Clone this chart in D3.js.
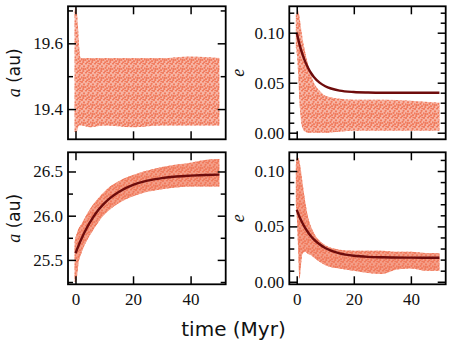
<!DOCTYPE html>
<html><head><meta charset="utf-8">
<script src="https://cdn.jsdelivr.net/npm/d3@7"></script>
<style>body{margin:0;background:#fff}svg{display:block}</style>
</head><body>
<script>
// ---------- data ----------
// Top-left: semi-major axis a (au) scatter envelope, no fit curve
const tlTime  = [-0.3, 0, 0.4, 0.8, 1.2, 1.6, 2, 5, 10, 20, 30, 40, 50];
const tlUpper = [19.70, 19.71, 19.70, 19.66, 19.60, 19.56, 19.555, 19.555, 19.555, 19.555, 19.555, 19.56, 19.555];
const tlLower = [19.33, 19.33, 19.33, 19.34, 19.35, 19.35, 19.35, 19.345, 19.35, 19.345, 19.35, 19.35, 19.35];

// Top-right: eccentricity scatter envelope and fit curve
const trTime  = [-0.3, 0, 0.5, 1, 1.5, 2, 3, 4, 5, 6, 8, 10, 15, 20, 30, 40, 50];
const trUpper = [0.118, 0.12, 0.122, 0.115, 0.105, 0.095, 0.08, 0.068, 0.058, 0.05, 0.042, 0.037, 0.034, 0.033, 0.033, 0.032, 0.030];
const trLower = [0.085, 0.08, 0.06, 0.03, 0.012, 0.005, 0.001, 0.0, 0.0, 0.0, 0.0, 0.0, 0.001, 0.002, 0.002, 0.002, 0.002];
const trFitT  = [0, 1, 2, 3, 4, 5, 6, 8, 10, 12, 15, 20, 25, 30, 40, 50];
const trFit   = [0.100, 0.0881, 0.0785, 0.0708, 0.0647, 0.0597, 0.0558, 0.0501, 0.0465, 0.0442, 0.0421, 0.0407, 0.0402, 0.0400, 0.0400, 0.0400];

// Bottom-left: a (au) scatter envelope and fit curve
const blTime  = [-0.3, 0, 0.5, 1, 2, 4, 6, 8, 10, 12, 15, 20, 25, 30, 35, 40, 45, 50];
const blUpper = [25.70, 25.75, 25.80, 25.85, 25.90, 26.02, 26.12, 26.20, 26.27, 26.33, 26.39, 26.46, 26.51, 26.55, 26.58, 26.60, 26.63, 26.64];
const blLower = [25.25, 25.25, 25.30, 25.45, 25.57, 25.72, 25.83, 25.93, 26.01, 26.07, 26.14, 26.22, 26.27, 26.30, 26.32, 26.33, 26.33, 26.33];
const blFitT  = [0, 2, 4, 6, 8, 10, 12, 15, 20, 25, 30, 35, 40, 45, 50];
const blFit   = [25.575, 25.733, 25.867, 25.976, 26.066, 26.139, 26.199, 26.269, 26.348, 26.396, 26.425, 26.443, 26.453, 26.46, 26.464];

// Bottom-right: eccentricity scatter envelope and fit curve
const brTime  = [-0.3, 0, 0.5, 1, 1.5, 2, 3, 4, 5, 6, 8, 10, 15, 20, 25, 30, 35, 40, 45, 50];
const brUpper = [0.105, 0.112, 0.112, 0.108, 0.10, 0.09, 0.072, 0.058, 0.050, 0.044, 0.037, 0.033, 0.029, 0.028, 0.028, 0.028, 0.027, 0.027, 0.026, 0.026];
const brLower = [0.07, 0.06, 0.03, 0.003, 0.015, 0.025, 0.027, 0.025, 0.024, 0.022, 0.018, 0.015, 0.012, 0.010, 0.008, 0.007, 0.011, 0.012, 0.010, 0.010];
const brFitT  = [0, 1, 2, 3, 4, 5, 6, 8, 10, 12, 15, 20, 25, 30, 40, 50];
const brFit   = [0.065, 0.0584, 0.0530, 0.0484, 0.0445, 0.0411, 0.0383, 0.0338, 0.0305, 0.0281, 0.0257, 0.0235, 0.0225, 0.0221, 0.0218, 0.0217];

// ticks
const xTicks = [0, 20, 40];
const xTickLabels = ["0", "20", "40"];
const aTopTicks = [19.4, 19.6];
const aTopMinor = [19.3, 19.5, 19.7];
const aBotTicks = [25.5, 26.0, 26.5];
const aBotMinor = [25.25, 25.75, 26.25, 26.75];
const eTicks = [0.00, 0.05, 0.10];
const eMinor = [0.01, 0.02, 0.03, 0.04, 0.06, 0.07, 0.08, 0.09, 0.11, 0.12];

// ---------- drawing ----------
const W = 457, H = 343;
const svg = d3.select("body").append("svg").attr("width", W).attr("height", H);

const scatterColor = "#f07a5c";
const lineColor = "#6e0c0c";
const tickFont = "'Liberation Serif', 'Times New Roman', serif";

// speckle texture (style only) to suggest a dense point cloud
const defs = svg.append("defs");
const pat = defs.append("pattern").attr("id", "speckle").attr("patternUnits", "userSpaceOnUse")
  .attr("width", 9).attr("height", 9);
[[1,1],[5,0.6],[3,3.4],[7.6,2.8],[0.6,5.4],[4.4,6],[8,7.2],[2.2,8],[6.2,8.4],[6.6,4.8],[2.6,6.2],[8.4,0.2]]
  .forEach(([cx, cy]) => pat.append("circle").attr("cx", cx).attr("cy", cy).attr("r", 1.1).attr("fill", scatterColor));

function panel(o) {
  const x = d3.scaleLinear().domain([-2.6, 52.2]).range([o.x0, o.x1]);
  const y = d3.scaleLinear().domain(o.yDomain).range([o.y1, o.y0]);
  const g = svg.append("g");
  const clipId = "clip" + o.id;
  svg.append("clipPath").attr("id", clipId).append("rect")
    .attr("x", o.x0).attr("y", o.y0).attr("width", o.x1 - o.x0).attr("height", o.y1 - o.y0);
  const plot = g.append("g").attr("clip-path", `url(#${clipId})`);

  const bandData = o.t.map((t, i) => ({t, lo: o.lo[i], hi: o.hi[i]}));
  const area = d3.area().x(d => x(d.t)).y0(d => y(d.lo)).y1(d => y(d.hi)).curve(d3.curveMonotoneX);
  plot.append("path").datum(bandData).attr("d", area)
    .attr("fill", scatterColor).attr("fill-opacity", o.op);
  plot.append("path").datum(bandData).attr("d", area)
    .attr("fill", "url(#speckle)");
  if (o.fitT) {
    const fd = o.fitT.map((t, i) => ({t, v: o.fit[i]}));
    plot.append("path").datum(fd)
      .attr("d", d3.line().x(d => x(d.t)).y(d => y(d.v)).curve(d3.curveMonotoneX))
      .attr("fill", "none").attr("stroke", lineColor).attr("stroke-width", 2.4);
  }

  const maj = 8, mnr = 5;
  const minor = o.yMinor.filter(v => v >= o.yDomain[0] && v <= o.yDomain[1]);
  g.append("g").attr("transform", `translate(${o.x0},0)`)
    .call(d3.axisLeft(y).tickValues(o.yTicks).tickFormat(o.yFmt).tickSize(-maj).tickPadding(5));
  g.append("g").attr("transform", `translate(${o.x0},0)`)
    .call(d3.axisLeft(y).tickValues(minor).tickFormat("").tickSize(-mnr));
  g.append("g").attr("transform", `translate(${o.x1},0)`)
    .call(d3.axisRight(y).tickValues(o.yTicks).tickFormat("").tickSize(-maj));
  g.append("g").attr("transform", `translate(${o.x1},0)`)
    .call(d3.axisRight(y).tickValues(minor).tickFormat("").tickSize(-mnr));
  g.append("g").attr("transform", `translate(0,${o.y1})`)
    .call(d3.axisBottom(x).tickValues(xTicks).tickFormat((d, i) => o.xLabels ? xTickLabels[i] : "").tickSize(-maj).tickPadding(9));
  g.append("g").attr("transform", `translate(0,${o.y0})`)
    .call(d3.axisTop(x).tickValues(xTicks).tickFormat("").tickSize(-maj));
  g.selectAll(".domain").remove();
  g.selectAll(".tick line").attr("stroke", "#000").attr("stroke-width", 1.5);
  g.selectAll(".tick text").attr("font-family", tickFont).attr("font-size", 17).attr("fill", "#111");
  g.append("rect").attr("x", o.x0).attr("y", o.y0).attr("width", o.x1 - o.x0).attr("height", o.y1 - o.y0)
    .attr("fill", "none").attr("stroke", "#000").attr("stroke-width", 1.8);

  const cy = (o.y0 + o.y1) / 2;
  const lab = g.append("text").attr("transform", `translate(${o.labX},${cy}) rotate(-90)`)
    .attr("text-anchor", "middle").attr("font-size", 18).attr("fill", "#111");
  if (o.isA) {
    lab.append("tspan").attr("font-family", tickFont).attr("font-style", "italic").text("a");
    lab.append("tspan").attr("font-family", "'DejaVu Sans', sans-serif").attr("font-size", 17).text(" (au)");
  } else {
    lab.append("tspan").attr("font-family", tickFont).attr("font-style", "italic").text("e");
  }
}

const fmt1 = d3.format(".1f"), fmt2 = d3.format(".2f");

panel({id: "tl", x0: 68, x1: 225.7, y0: 6.3, y1: 139.3, yDomain: [19.308, 19.7126],
  t: tlTime, lo: tlLower, hi: tlUpper, op: 0.55,
  yTicks: aTopTicks, yMinor: aTopMinor, yFmt: fmt1, xLabels: false, isA: true, labX: 20});
panel({id: "tr", x0: 289.3, x1: 445.7, y0: 6.3, y1: 139.3, yDomain: [-0.0066, 0.1264],
  t: trTime, lo: trLower, hi: trUpper, op: 0.55, fitT: trFitT, fit: trFit,
  yTicks: eTicks, yMinor: eMinor, yFmt: fmt2, xLabels: false, isA: false, labX: 244});
panel({id: "bl", x0: 68, x1: 225.7, y0: 152.3, y1: 284.3, yDomain: [25.224, 26.717],
  t: blTime, lo: blLower, hi: blUpper, op: 0.72, fitT: blFitT, fit: blFit,
  yTicks: aBotTicks, yMinor: aBotMinor, yFmt: fmt1, xLabels: true, isA: true, labX: 20});
panel({id: "br", x0: 289.3, x1: 445.7, y0: 152.3, y1: 284.3, yDomain: [-0.0023, 0.1169],
  t: brTime, lo: brLower, hi: brUpper, op: 0.72, fitT: brFitT, fit: brFit,
  yTicks: eTicks, yMinor: eMinor, yFmt: fmt2, xLabels: true, isA: false, labX: 244});

svg.append("text").attr("x", 233.5).attr("y", 336).attr("text-anchor", "middle")
  .attr("font-family", "'DejaVu Sans', sans-serif").attr("font-size", 20).attr("fill", "#111")
  .text("time (Myr)");
</script>
</body></html>
